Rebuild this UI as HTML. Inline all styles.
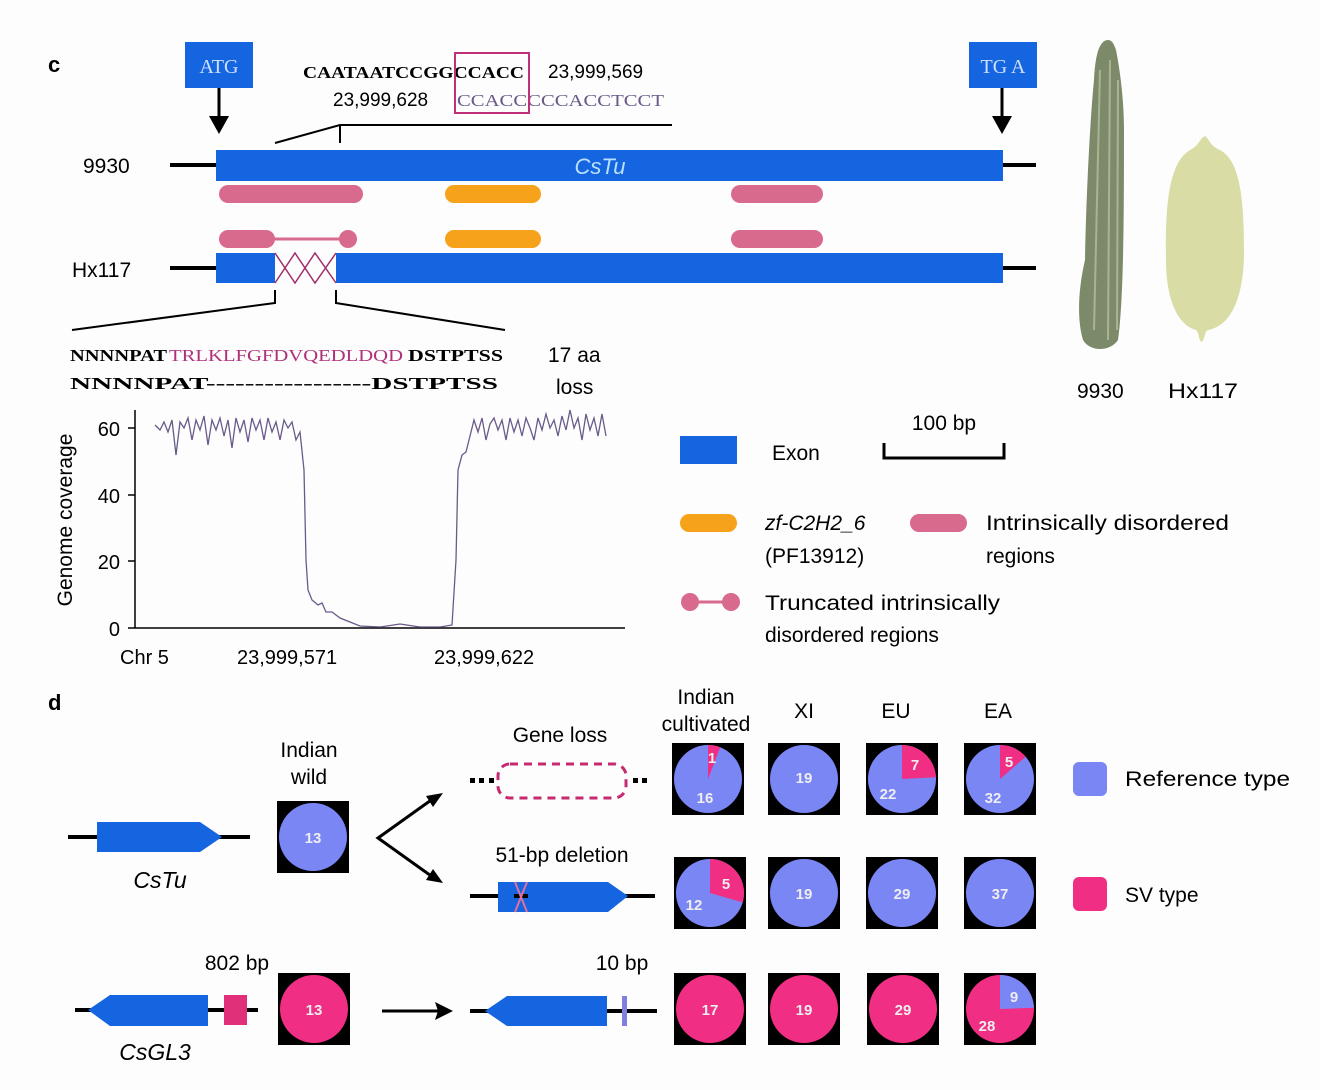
<!DOCTYPE html>
<html><head><meta charset="utf-8"><style>
html,body{margin:0;padding:0;background:#fdfdfd;}
svg{display:block;font-family:"Liberation Sans",sans-serif;}
</style></head><body>
<svg width="1320" height="1090" viewBox="0 0 1320 1090" xmlns="http://www.w3.org/2000/svg">
<rect width="1320" height="1090" fill="#fdfdfd"/>
<text x="48" y="72" font-size="22" font-weight="bold">c</text>
<text x="48" y="710" font-size="22" font-weight="bold">d</text>

<!-- ATG / TGA -->
<rect x="185" y="42" width="68" height="46" fill="#1565e0"/>
<text x="219" y="73" font-size="20" fill="#cfe0ff" text-anchor="middle" font-family="Liberation Serif,serif">ATG</text>
<line x1="219" y1="88" x2="219" y2="118" stroke="#000" stroke-width="3"/>
<polygon points="209,116 229,116 219,134" fill="#000"/>
<rect x="969" y="42" width="68" height="46" fill="#1565e0"/>
<text x="1003" y="73" font-size="20" fill="#cfe0ff" text-anchor="middle" font-family="Liberation Serif,serif">TG A</text>
<line x1="1002" y1="88" x2="1002" y2="118" stroke="#000" stroke-width="3"/>
<polygon points="992,116 1012,116 1002,134" fill="#000"/>

<!-- sequence -->
<text x="303" y="78" font-size="17" font-weight="bold" font-family="Liberation Serif,serif" textLength="221" lengthAdjust="spacingAndGlyphs">CAATAATCCGGCCACC</text>
<text x="548" y="78" font-size="19">23,999,569</text>
<text x="333" y="106" font-size="19">23,999,628</text>
<text x="457" y="106" font-size="17" fill="#6a5a8a" font-family="Liberation Serif,serif" textLength="207" lengthAdjust="spacingAndGlyphs">CCACCCCCACCTCCT</text>
<rect x="455" y="53" width="74" height="60" fill="none" stroke="#c0307a" stroke-width="2"/>
<polyline points="275,143 340,125 672,125" fill="none" stroke="#000" stroke-width="2"/>
<line x1="340" y1="125" x2="340" y2="143" stroke="#000" stroke-width="2"/>

<!-- 9930 -->
<text x="83" y="173" font-size="21">9930</text>
<line x1="170" y1="165" x2="1036" y2="165" stroke="#000" stroke-width="4"/>
<rect x="216" y="150" width="787" height="31" fill="#1565e0"/>
<text x="600" y="174" font-size="22" font-style="italic" fill="#b8e0ff" text-anchor="middle">CsTu</text>
<rect x="219" y="185" width="144" height="18" rx="9" fill="#d86a8e"/>
<rect x="445" y="185" width="96" height="18" rx="9" fill="#f7a21b"/>
<rect x="731" y="185" width="92" height="18" rx="9" fill="#d86a8e"/>
<!-- Hx117 -->
<rect x="219" y="230" width="56" height="18" rx="9" fill="#d86a8e"/>
<line x1="270" y1="239" x2="345" y2="239" stroke="#d86a8e" stroke-width="3"/>
<circle cx="348" cy="239" r="9" fill="#d86a8e"/>
<rect x="445" y="230" width="96" height="18" rx="9" fill="#f7a21b"/>
<rect x="731" y="230" width="92" height="18" rx="9" fill="#d86a8e"/>
<text x="72" y="277" font-size="21">Hx117</text>
<line x1="170" y1="268" x2="216" y2="268" stroke="#000" stroke-width="4"/>
<line x1="1003" y1="268" x2="1036" y2="268" stroke="#000" stroke-width="4"/>
<rect x="216" y="253" width="59" height="30" fill="#1565e0"/>
<rect x="336" y="253" width="667" height="30" fill="#1565e0"/>
<polyline points="275,253 295,283 315,253 336,283" fill="none" stroke="#a0306a" stroke-width="1.5"/>
<polyline points="275,283 295,253 315,283 336,253" fill="none" stroke="#a0306a" stroke-width="1.5"/>
<polyline points="275,290 275,303 72,330" fill="none" stroke="#000" stroke-width="2"/>
<polyline points="336,290 336,303 505,330" fill="none" stroke="#000" stroke-width="2"/>

<g font-size="17" font-family="Liberation Serif,serif">
<text x="70" y="361" font-weight="bold" textLength="97" lengthAdjust="spacingAndGlyphs">NNNNPAT</text>
<text x="169" y="361" fill="#b0307a" textLength="234" lengthAdjust="spacingAndGlyphs">TRLKLFGFDVQEDLDQD</text>
<text x="408" y="361" font-weight="bold" textLength="95" lengthAdjust="spacingAndGlyphs">DSTPTSS</text>
<text x="70" y="389" font-weight="bold" textLength="428" lengthAdjust="spacingAndGlyphs">NNNNPAT-----------------DSTPTSS</text>
</g>
<text x="548" y="362" font-size="21">17 aa</text>
<text x="556" y="394" font-size="21">loss</text>

<!-- plot -->
<line x1="135" y1="410" x2="135" y2="628" stroke="#000" stroke-width="1.5"/>
<line x1="135" y1="628" x2="625" y2="628" stroke="#000" stroke-width="1.5"/>
<g stroke="#000" stroke-width="1.5"><line x1="128" y1="428" x2="135" y2="428"/><line x1="128" y1="495" x2="135" y2="495"/><line x1="128" y1="561" x2="135" y2="561"/><line x1="128" y1="628" x2="135" y2="628"/></g>
<g font-size="20" text-anchor="end"><text x="120" y="436">60</text><text x="120" y="503">40</text><text x="120" y="569">20</text><text x="120" y="636">0</text></g>
<text transform="translate(72,520) rotate(-90)" font-size="21" text-anchor="middle">Genome coverage</text>
<polyline fill="none" stroke="#6a5a8a" stroke-width="1.3" points="155,425 160,430 164,422 168,432 172,420 176,455 180,422 184,428 188,418 192,440 196,420 200,430 204,416 208,445 212,420 216,430 220,418 224,436 228,420 232,448 236,418 240,432 244,420 248,442 252,418 256,430 260,420 264,440 268,418 272,432 276,422 280,440 284,420 288,428 292,422 296,440 300,432 304,470 306,560 308,590 312,600 318,605 322,603 326,612 332,612 340,618 350,622 360,626 380,627 400,624 420,627 440,627 452,625 456,560 458,470 462,455 466,452 470,436 474,420 478,432 482,418 486,440 490,424 494,418 498,430 502,420 506,440 510,418 514,432 518,420 522,436 526,418 530,428 534,440 538,418 542,430 546,414 550,428 554,420 558,436 562,416 566,430 570,410 574,428 578,418 582,440 586,414 590,430 594,418 598,436 602,414 606,436"/>
<text x="120" y="664" font-size="20">Chr 5</text>
<text x="237" y="664" font-size="20">23,999,571</text>
<text x="434" y="664" font-size="20">23,999,622</text>

<!-- legend -->
<rect x="680" y="436" width="57" height="28" fill="#1565e0"/>
<text x="772" y="460" font-size="21">Exon</text>
<polyline points="884,443 884,458 1004,458 1004,443" fill="none" stroke="#000" stroke-width="3"/>
<text x="944" y="430" font-size="21" text-anchor="middle">100 bp</text>
<rect x="680" y="514" width="57" height="18" rx="9" fill="#f7a21b"/>
<text x="765" y="530" font-size="21" font-style="italic">zf-C2H2_6</text>
<text x="765" y="563" font-size="21">(PF13912)</text>
<rect x="910" y="514" width="57" height="18" rx="9" fill="#d86a8e"/>
<text x="986" y="530" font-size="21" textLength="243" lengthAdjust="spacingAndGlyphs">Intrinsically disordered</text>
<text x="986" y="563" font-size="21">regions</text>
<circle cx="690" cy="602" r="9" fill="#d86a8e"/><circle cx="731" cy="602" r="9" fill="#d86a8e"/>
<line x1="690" y1="602" x2="731" y2="602" stroke="#d86a8e" stroke-width="3"/>
<text x="765" y="610" font-size="21" textLength="235" lengthAdjust="spacingAndGlyphs">Truncated intrinsically</text>
<text x="765" y="642" font-size="21">disordered regions</text>

<!-- cucumbers -->
<path d="M1108,40 C1098,40 1095,60 1094,80 C1090,120 1086,200 1085,260 C1078,290 1077,320 1083,340 C1090,352 1110,352 1118,340 C1124,300 1124,200 1124,130 C1124,100 1120,70 1116,50 C1114,44 1112,40 1108,40Z" fill="#7d8a6a"/>
<g stroke="#b5bd9e" stroke-width="2" fill="none" opacity="0.8"><path d="M1100,70 L1094,330"/><path d="M1110,60 L1108,340"/><path d="M1118,80 L1117,330"/></g>
<path d="M1205,136 C1198,140 1200,145 1190,150 C1170,162 1165,200 1166,260 C1166,300 1178,325 1196,330 C1200,334 1198,340 1202,342 C1206,336 1204,332 1208,330 C1230,326 1244,300 1244,250 C1244,190 1238,160 1220,150 C1210,146 1210,140 1205,136Z" fill="#d9dca4"/>
<text x="1077" y="398" font-size="21">9930</text>
<text x="1168" y="398" font-size="21" textLength="70" lengthAdjust="spacingAndGlyphs">Hx117</text>

<!-- section d -->
<line x1="68" y1="837" x2="250" y2="837" stroke="#000" stroke-width="4"/>
<polygon points="97,822 200,822 222,837 200,852 97,852" fill="#1565e0"/>
<text x="160" y="888" font-size="23" font-style="italic" text-anchor="middle">CsTu</text>
<text x="309" y="757" font-size="21" text-anchor="middle">Indian</text>
<text x="309" y="784" font-size="21" text-anchor="middle">wild</text>
<polyline points="434,798 378,838 434,878" fill="none" stroke="#000" stroke-width="3"/>
<polygon points="443,793 426,796 433,807" fill="#000"/>
<polygon points="443,883 426,880 433,869" fill="#000"/>
<text x="560" y="742" font-size="21" text-anchor="middle">Gene loss</text>
<rect x="498" y="764" width="128" height="34" rx="12" fill="none" stroke="#c82a70" stroke-width="3" stroke-dasharray="8,6"/>
<g fill="#000"><rect x="470" y="778" width="5" height="5"/><rect x="479" y="778" width="5" height="5"/><rect x="489" y="778" width="5" height="5"/><rect x="633" y="778" width="5" height="5"/><rect x="642" y="778" width="5" height="5"/></g>
<text x="562" y="862" font-size="21" text-anchor="middle">51-bp deletion</text>
<line x1="470" y1="896" x2="655" y2="896" stroke="#000" stroke-width="4"/>
<polygon points="498,882 608,882 628,896 608,912 498,912" fill="#1565e0"/>
<line x1="514" y1="896" x2="528" y2="896" stroke="#000" stroke-width="4"/>
<path d="M515,882 L527,912 M527,882 L515,912" stroke="#e070a0" stroke-width="2"/>

<line x1="75" y1="1010" x2="258" y2="1010" stroke="#000" stroke-width="4"/>
<polygon points="88,1010 110,995 208,995 208,1026 110,1026" fill="#1565e0"/>
<rect x="224" y="995" width="23" height="30" fill="#e0307a"/>
<text x="237" y="970" font-size="21" text-anchor="middle">802 bp</text>
<text x="155" y="1060" font-size="23" font-style="italic" text-anchor="middle">CsGL3</text>
<line x1="382" y1="1011" x2="440" y2="1011" stroke="#000" stroke-width="3"/>
<polygon points="453,1011 435,1002 438,1011 435,1020" fill="#000"/>
<line x1="470" y1="1011" x2="657" y2="1011" stroke="#000" stroke-width="4"/>
<polygon points="485,1011 507,996 607,996 607,1026 507,1026" fill="#1565e0"/>
<rect x="622" y="996" width="5" height="30" fill="#8080e0"/>
<text x="622" y="970" font-size="21" text-anchor="middle">10 bp</text>

<!-- column headers -->
<g font-size="21" text-anchor="middle">
<text x="706" y="704">Indian</text><text x="706" y="731">cultivated</text>
<text x="804" y="718">XI</text><text x="896" y="718">EU</text><text x="998" y="718">EA</text>
</g>

<!-- pies -->
<g>
<rect x="277" y="801" width="72" height="72" fill="#000"/><circle cx="313" cy="837" r="34" fill="#7b86f5"/>
<rect x="278" y="973" width="72" height="72" fill="#000"/><circle cx="314" cy="1009" r="34" fill="#ef2e84"/>
<rect x="672" y="743" width="72" height="72" fill="#000"/><circle cx="708" cy="779" r="34" fill="#7b86f5"/>
<path d="M708,779 L708,745 A34,34 0 0 1 720.2,747.2Z" fill="#ef2e84"/>
<rect x="768" y="743" width="72" height="72" fill="#000"/><circle cx="804" cy="779" r="34" fill="#7b86f5"/>
<rect x="866" y="743" width="72" height="72" fill="#000"/><circle cx="902" cy="779" r="34" fill="#7b86f5"/>
<path d="M902,779 L902,745 A34,34 0 0 1 936,777.2Z" fill="#ef2e84"/>
<rect x="964" y="743" width="72" height="72" fill="#000"/><circle cx="1000" cy="779" r="34" fill="#7b86f5"/>
<path d="M1000,779 L1000,745 A34,34 0 0 1 1025.7,756.7Z" fill="#ef2e84"/>

<rect x="674" y="857" width="72" height="72" fill="#000"/><circle cx="710" cy="893" r="34" fill="#7b86f5"/>
<path d="M710,893 L710,859 A34,34 0 0 1 742.7,902.4Z" fill="#ef2e84"/>
<rect x="768" y="857" width="72" height="72" fill="#000"/><circle cx="804" cy="893" r="34" fill="#7b86f5"/>
<rect x="866" y="857" width="72" height="72" fill="#000"/><circle cx="902" cy="893" r="34" fill="#7b86f5"/>
<rect x="964" y="857" width="72" height="72" fill="#000"/><circle cx="1000" cy="893" r="34" fill="#7b86f5"/>

<rect x="674" y="973" width="72" height="72" fill="#000"/><circle cx="710" cy="1009" r="34" fill="#ef2e84"/>
<rect x="768" y="973" width="72" height="72" fill="#000"/><circle cx="804" cy="1009" r="34" fill="#ef2e84"/>
<rect x="867" y="973" width="72" height="72" fill="#000"/><circle cx="903" cy="1009" r="34" fill="#ef2e84"/>
<rect x="964" y="973" width="72" height="72" fill="#000"/><circle cx="1000" cy="1009" r="34" fill="#ef2e84"/>
<path d="M1000,1009 L1000,975 A34,34 0 0 1 1034,1007.8Z" fill="#7b86f5"/>
</g>
<g font-size="15" font-weight="bold" fill="#eee" text-anchor="middle">
<text x="313" y="843">13</text><text x="314" y="1015">13</text>
<text x="712" y="763">1</text><text x="705" y="803">16</text>
<text x="804" y="783">19</text>
<text x="915" y="770">7</text><text x="888" y="799">22</text>
<text x="1009" y="767">5</text><text x="993" y="803">32</text>
<text x="726" y="889">5</text><text x="694" y="910">12</text>
<text x="804" y="899">19</text><text x="902" y="899">29</text><text x="1000" y="899">37</text>
<text x="710" y="1015">17</text><text x="804" y="1015">19</text><text x="903" y="1015">29</text>
<text x="1014" y="1002">9</text><text x="987" y="1031">28</text>
</g>
<rect x="1073" y="762" width="34" height="34" rx="6" fill="#7b86f5"/>
<text x="1125" y="786" font-size="21" textLength="165" lengthAdjust="spacingAndGlyphs">Reference type</text>
<rect x="1073" y="877" width="34" height="34" rx="6" fill="#ef2e84"/>
<text x="1125" y="902" font-size="21">SV type</text>
</svg>
</body></html>
